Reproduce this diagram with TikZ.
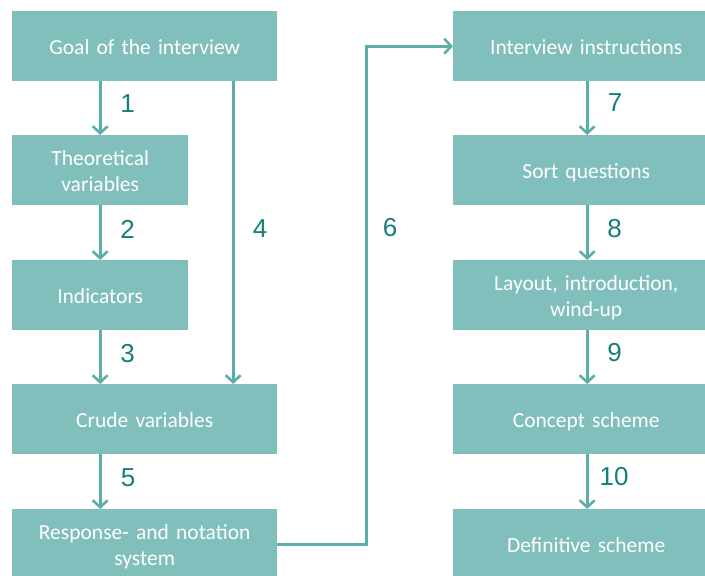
\documentclass[tikz,border=0pt]{standalone}
\usepackage{fontspec}
\setmainfont{Carlito}
\newfontfamily\numfont{Liberation Sans}
\usetikzlibrary{arrows.meta,calc}

\definecolor{boxfill}{RGB}{128,191,187}
\definecolor{linecol}{RGB}{92,175,169}
\definecolor{numcol}{RGB}{22,128,120}

\tikzset{
  stepbox/.style={rectangle, fill=boxfill, draw=none, text=white, anchor=north west,
    minimum height=70pt, inner sep=2pt, align=center,
    font=\fontsize{21.5}{26}\selectfont,
    execute at begin node={\rule[-5pt]{0pt}{26pt}},
    execute at end node={\rule[-5pt]{0pt}{22pt}}},
  widebox/.style={stepbox, minimum width=265pt, text width=255pt},
  narrowbox/.style={stepbox, minimum width=176pt, text width=166pt},
  rightbox/.style={stepbox, minimum width=266pt, text width=256pt},
  arr/.style={draw=linecol, line width=3pt,
    -{Straight Barb[length=7pt,width=15pt,line width=2.6pt]}},
  num/.style={text=numcol, inner sep=0pt, font=\numfont\fontsize{26}{26}\selectfont}
}

\begin{document}
\begin{tikzpicture}[x=1pt,y=-1pt]
\useasboundingbox (0,0) rectangle (705,576);

% left column
\node[widebox]   (goal)  at (12,11)  {Goal of the interview};
\node[narrowbox] (theo)  at (12,135) {Theoretical\\variables};
\node[narrowbox] (ind)   at (12,260) {Indicators};
\node[widebox]   (crude) at (12,384) {Crude variables};
\node[widebox]   (resp)  at (12,509) {Response- and notation\\system};

% right column
\node[rightbox] (instr)   at (453,11)  {Interview instructions};
\node[rightbox] (sort)    at (453,135) {Sort questions};
\node[rightbox] (layout)  at (453,260) {Layout, introduction,\\wind-up};
\node[rightbox] (concept) at (453,384) {Concept scheme};
\node[rightbox] (defin)   at (453,509) {Definitive scheme};

% left column arrows
\draw[arr] (theo.north |- goal.south) -- (theo.north);
\draw[arr] (theo.south) -- (ind.north);
\draw[arr] (ind.south) -- (ind.south |- crude.north);
\draw[arr] ([xshift=88.5pt]goal.south) -- ([xshift=88.5pt]goal.south |- crude.north);
\draw[arr] (ind.south |- crude.south) -- (ind.south |- resp.north);

% link from the left column to the right column
\coordinate (bend) at (366,0);
\draw[arr] (resp.east) -- (bend |- resp.east) -- (bend |- instr.west) -- (instr.west);

% right column arrows
\draw[arr] ([xshift=1pt]instr.south) -- ([xshift=1pt]sort.north);
\draw[arr] ([xshift=1pt]sort.south) -- ([xshift=1pt]layout.north);
\draw[arr] ([xshift=1pt]layout.south) -- ([xshift=1pt]concept.north);
\draw[arr] ([xshift=1pt]concept.south) -- ([xshift=1pt]defin.north);

% step numbers
\node[num] (n1)  at (127.5,104) {1};
\node[num] (n2)  at (127.5,229) {2};
\node[num] (n3)  at (127.5,353.5) {3};
\node[num] (n4)  at (260,229) {4};
\node[num] (n5)  at (128,477.5) {5};
\node[num] (n6)  at (390,228) {6};
\node[num] (n7)  at (615,103) {7};
\node[num] (n8)  at (614.5,229) {8};
\node[num] (n9)  at (614.5,353) {9};
\node[num] (n10) at (614,477) {10};
\end{tikzpicture}
\end{document}
